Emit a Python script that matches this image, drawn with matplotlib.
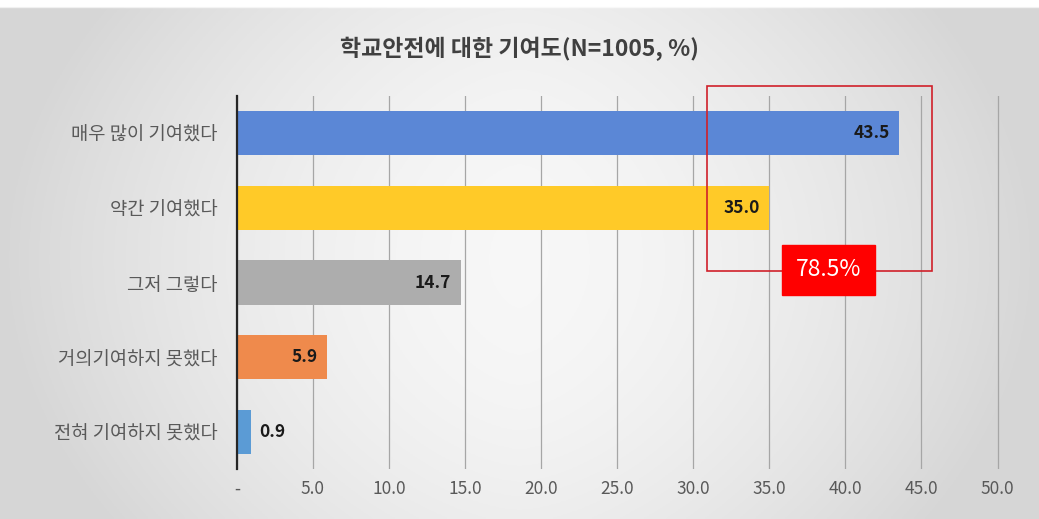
#!/usr/bin/env python3
import numpy as np
import matplotlib
matplotlib.use("Agg")
import matplotlib.pyplot as plt
from matplotlib.patches import Rectangle

plt.rcParams["font.family"] = ["Noto Sans CJK KR", "DejaVu Sans"]

categories = ["매우 많이 기여했다", "약간 기여했다", "그저 그렇다", "거의기여하지 못했다", "전혀 기여하지 못했다"]
values = [43.5, 35.0, 14.7, 5.9, 0.9]
colors = ["#5B87D6", "#FFCA28", "#ADADAD", "#EF8A4C", "#5B9BD5"]
xticks = [0, 5, 10, 15, 20, 25, 30, 35, 40, 45, 50]
xticklabels = ["-"] + [f"{t:.1f}" for t in xticks[1:]]
title = "학교안전에 대한 기여도(N=1005, %)"
highlight = "78.5%"

fig = plt.figure(figsize=(10.39, 5.19), dpi=100)

# background: grey edges fading to white in the middle
bg = fig.add_axes([0, 0, 1, 1], zorder=-10)
xx = np.linspace(-1, 1, 400)
yy = np.linspace(-1, 1, 200)
X, Y = np.meshgrid(xx, yy)
shade = 0.97 - 0.13 * np.clip(np.abs(X) ** 1.6 + 0.3 * np.abs(Y) ** 2, 0, 1)
shade[:3, :] = 1.0
bg.imshow(np.dstack([shade] * 3), aspect="auto", extent=[0, 1, 0, 1])
bg.axis("off")

ax = fig.add_axes([0.228, 0.0956, 0.735, 0.720])
ax.patch.set_alpha(0)
y = np.arange(len(categories))
bars = ax.barh(y, values, height=0.59, color=colors, zorder=3)
ax.set_ylim(len(categories) - 0.5, -0.5)
ax.set_xlim(0, 50.2)
ax.set_yticks(y)
ax.set_yticklabels(categories, fontsize=13.5, color="#595959")
ax.set_xticks(xticks)
ax.set_xticklabels(xticklabels, fontsize=12.5, color="#595959")
ax.tick_params(axis="x", length=0, pad=8)
ax.tick_params(axis="y", length=0, pad=14)
ax.grid(axis="x", color="#A6A6A6", linewidth=0.9, zorder=0)
for s in ["top", "right", "bottom"]:
    ax.spines[s].set_visible(False)
ax.spines["left"].set_color("#262626")
ax.spines["left"].set_linewidth(1.6)
ax.spines["left"].set_zorder(4)

for bar, v in zip(bars, values):
    cy = bar.get_y() + bar.get_height() / 2
    if v > 3:
        ax.text(v - 0.6, cy, f"{v:.1f}", ha="right", va="center",
                fontsize=12.5, fontweight="bold", color="#1a1a1a", zorder=5)
    else:
        ax.text(v + 0.6, cy, f"{v:.1f}", ha="left", va="center",
                fontsize=12.5, fontweight="bold", color="#1a1a1a", zorder=5)

# red outline around the two top bars
ax.add_patch(Rectangle((30.9, -0.63), 45.7 - 30.9, 1.85 + 0.63, fill=False,
                       edgecolor="#D0202A", linewidth=1.2, zorder=6, clip_on=False))
ax.text(38.9, 1.83, highlight, ha="center", va="center", fontsize=16.5,
        color="white", zorder=7,
        bbox=dict(boxstyle="square,pad=0.6", facecolor="#FF0000", edgecolor="#FF0000"))

fig.text(0.5, 0.905, title, ha="center", va="center", fontsize=16.5,
         fontweight="bold", color="#404040")

fig.savefig("out.png", dpi=100)
